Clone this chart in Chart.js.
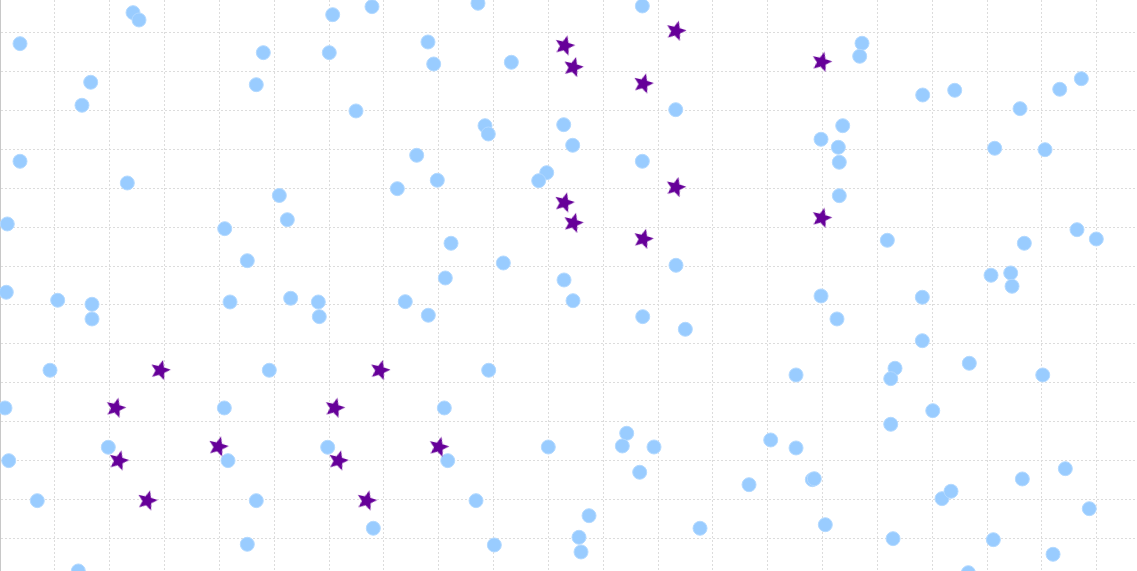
<!DOCTYPE html>
<html>
<head>
<meta charset="utf-8">
<script src="https://cdn.jsdelivr.net/npm/chart.js@4"></script>
<style>
  html, body { margin: 0; padding: 0; background: #fff; }
  #wrap { width: 1137px; height: 571px; position: relative; }
</style>
</head>
<body>
<div id="wrap"><canvas id="myChart"></canvas></div>
<script>
// visible window of the scatter (axis units, grid every 10)
const xRange = [0, 207.35];
const yRange = [1.7, 148.3];
const gridStep = 10;

// light blue circles
const circleX = [
  3.65, 24.26, 25.35, 16.54, 14.95, 3.65, 23.22, 50.94, 60.67, 67.84,
  48.02, 60.05, 46.74, 64.92, 87.17, 117.14, 78.05, 79.09, 93.25, 123.23,
  88.45, 89.05, 102.8, 104.44, 75.99, 79.75, 72.46, 99.7, 98.24, 117.14,
  157.2, 156.78, 168.27, 174.11, 186.02, 193.26, 197.2, 153.68, 149.73, 152.88,
  153.06, 181.4, 190.58, 153.06, 1.33, 1.15, 10.52, 16.78, 16.78, 9.12,
  52.4, 40.98, 45.1, 41.95, 53.01, 58.05, 58.23, 49.11, 82.25, 91.79,
  81.21, 102.86, 104.5, 73.91, 78.11, 123.28, 117.21, 124.98, 89.12, 161.82,
  196.41, 199.93, 186.8, 180.73, 184.32, 184.56, 149.73, 168.2, 152.64, 168.2,
  176.77, 145.17, 163.22, 162.44, 190.16, 0.91, 1.59, 6.8, 19.75, 40.91,
  41.58, 46.74, 45.1, 59.76, 68.08, 14.28, 81.03, 81.65, 99.99, 86.81,
  90.15, 114.29, 113.49, 119.27, 116.66, 107.42, 105.59, 105.96, 127.66, 136.6,
  170.1, 162.44, 140.55, 145.17, 148.14, 148.5, 150.51, 162.86, 171.79, 173.43,
  186.44, 194.28, 198.65, 181.15, 192.04, 176.59
];
const circleY = [
  137.09, 145.05, 143.17, 127.18, 121.27, 106.89, 101.32, 98.11, 144.53, 146.59,
  134.78, 134.78, 126.56, 119.81, 147.46, 146.77, 137.52, 131.87, 132.31, 120.14,
  116.03, 113.9, 116.29, 111.0, 108.43, 102.02, 99.86, 103.97, 101.91, 106.89,
  137.19, 133.85, 123.91, 125.12, 120.4, 125.38, 128.1, 116.03, 112.54, 110.49,
  106.64, 110.23, 109.87, 98.06, 90.8, 73.26, 71.21, 70.18, 66.41, 53.24,
  91.9, 89.59, 81.37, 70.77, 71.72, 70.77, 67.0, 53.24, 85.84, 80.78,
  76.93, 76.42, 71.1, 70.85, 67.36, 80.19, 67.0, 63.76, 53.24, 86.61,
  89.33, 86.94, 85.84, 77.63, 78.22, 74.8, 72.31, 71.98, 66.41, 60.83,
  55.03, 52.03, 53.75, 51.08, 52.03, 43.56, 30.03, 19.76, 33.47, 43.56,
  30.03, 19.76, 8.56, 33.47, 12.67, 1.71, 43.56, 30.03, 33.54, 19.76,
  8.38, 37.06, 33.8, 33.54, 27.05, 15.9, 10.36, 6.59, 12.67, 23.86,
  42.86, 39.37, 35.34, 33.29, 25.15, 25.4, 13.59, 10.0, 20.27, 22.17,
  25.33, 27.97, 17.7, 9.74, 5.99, 1.27
];

// purple stars
const starX = [
  21.1, 21.65, 26.86, 29.23, 39.81, 61.04, 61.7, 66.87, 69.3, 80.01,
  102.98, 104.55, 117.32, 123.28, 102.91, 104.55, 117.32, 123.23, 149.85, 149.85
];
const starY = [
  43.56, 30.03, 19.76, 53.24, 33.62, 43.56, 30.03, 19.76, 53.24, 33.54,
  136.57, 131.03, 126.82, 140.35, 96.27, 91.05, 86.94, 100.22, 132.39, 92.34
];

const toPoints = (xs, ys) => xs.map((x, i) => ({ x: x, y: ys[i] }));

// filled five point star, used as the point image
const makeStar = (size, color) => {
  const c = document.createElement("canvas");
  c.width = size;
  c.height = size;
  const g = c.getContext("2d");
  const r = size / 2;
  const inner = r * 0.45;
  g.beginPath();
  for (let i = 0; i < 10; i++) {
    const rad = i % 2 === 0 ? r : inner;
    const a = -Math.PI / 2 + (i * Math.PI) / 5;
    g.lineTo(r + rad * Math.cos(a), r + rad * Math.sin(a));
  }
  g.closePath();
  g.fillStyle = color;
  g.fill();
  return c;
};

const ctx = document.querySelector("#myChart");

const grafico = new Chart(ctx, {
  type: "scatter",
  data: {
    datasets: [
      {
        label: "stars",
        data: toPoints(starX, starY),
        pointStyle: makeStar(21, "#660099"),
        pointRadius: 10,
        pointRotation: 15,
      },
      {
        label: "circles",
        data: toPoints(circleX, circleY),
        pointStyle: "circle",
        pointRadius: 7,
        backgroundColor: "#99ccff",
        borderColor: "#b3d9ff",
        borderWidth: 1,
      },
    ],
  },
  options: {
    animation: false,
    responsive: true,
    maintainAspectRatio: false,
    layout: { padding: 0, autoPadding: false },
    plugins: {
      legend: { display: false },
      tooltip: { enabled: false },
    },
    scales: {
      x: {
        type: "linear",
        min: xRange[0],
        max: xRange[1],
        ticks: { display: false, stepSize: gridStep, includeBounds: false },
        grid: { color: "#dcdcdc", drawTicks: false },
        border: { display: false, dash: [2, 2] },
      },
      y: {
        type: "linear",
        min: yRange[0],
        max: yRange[1],
        ticks: { display: false, stepSize: gridStep, includeBounds: false },
        grid: { color: "#dcdcdc", drawTicks: false },
        border: { display: true, color: "#c8c8c8", width: 1, dash: [2, 2] },
      },
    },
  },
});
</script>
</body>
</html>
